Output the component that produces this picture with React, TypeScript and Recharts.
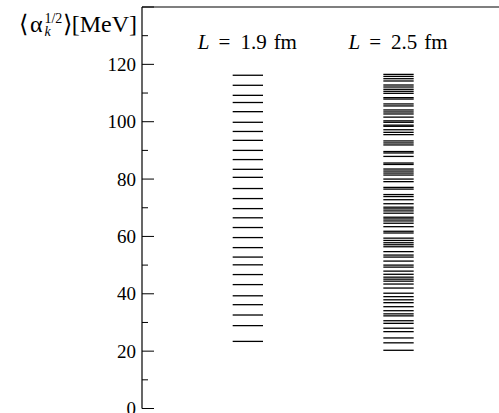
import React from 'react';
import { ComposedChart, XAxis, YAxis, ReferenceLine } from 'recharts';

// Energy levels (MeV)
const levelsL19: number[] = [
  116.2, 112.7, 109.2, 106.7, 103.5, 99.8, 96.6, 93.5, 90.0, 86.8, 83.4, 80.6,
  76.7, 73.2, 69.7, 66.5, 63.1, 59.6, 56.1, 52.8, 50.1, 46.7, 43.2, 39.3, 36.2,
  32.6, 28.9, 23.4,
];

const levelsL25: number[] = [
  116.5, 115.8, 115.0, 114.2, 112.8, 112.1, 111.3, 110.6, 109.9, 108.4, 107.9,
  106.2, 105.5, 104.1, 103.4, 102.7, 101.6, 100.3, 99.8, 98.8, 98.4, 97.2, 96.3,
  95.5, 93.3, 92.6, 91.9, 89.6, 89.1, 87.9, 85.6, 85.1, 83.5, 82.8, 82.1, 81.4,
  80.0, 79.1, 77.1, 76.5, 74.6, 73.9, 72.8, 71.4, 70.2, 69.6, 68.9, 68.1, 66.7,
  66.1, 65.4, 64.6, 63.4, 61.8, 61.2, 59.4, 58.6, 57.8, 57.1, 56.4, 54.7, 53.5,
  52.8, 51.4, 50.0, 49.3, 47.9, 46.8, 45.8, 45.1, 44.4, 43.4, 42.0, 40.2, 39.0,
  37.9, 36.9, 35.5, 34.1, 33.0, 32.3, 30.6, 29.7, 28.0, 26.8, 24.6, 22.9, 20.3,
];

const columnNames: string[] = ['1.9', '2.5'];
const yTicks: number[] = [0, 10, 20, 30, 40, 50, 60, 70, 80, 90, 100, 110, 120, 130, 140];
const yTickLabels: number[] = [0, 20, 40, 60, 80, 100, 120];

// layout (not data)
const W = 499;
const H = 413;
const M = { top: 7, right: 0, bottom: 4.5, left: 0 };
const AXIS_W = 142;
const X_DOMAIN: [number, number] = [0, 10];
const COL_CENTERS = [2.965, 7.185];
const HALF = 0.425;
const FONT = '"Liberation Serif", "Times New Roman", serif';

const YTick = (props: any) => {
  const { x, y, payload } = props;
  const v = payload.value;
  const major = v % 20 === 0;
  return (
    <g>
      <line x1={x} x2={x + (major ? 12 : 6)} y1={y} y2={y} stroke="#000" strokeWidth={1} />
      {major && yTickLabels.includes(v) && (
        <text x={x - 6} y={y} dy="0.34em" textAnchor="end" fontFamily={FONT} fontSize={19} fill="#000">
          {v}
        </text>
      )}
    </g>
  );
};

const columns = [levelsL19, levelsL25];

export default function App() {
  const plotW = W - M.left - M.right - AXIS_W;
  const xPx = (v: number) => M.left + AXIS_W + ((v - X_DOMAIN[0]) / (X_DOMAIN[1] - X_DOMAIN[0])) * plotW;
  return (
    <div style={{ position: 'absolute', left: 0, top: 0, width: W, height: H, overflow: 'hidden', background: '#fff' }}>
      <ComposedChart width={W} height={H} margin={M} data={[]}>
        <XAxis
          type="number"
          dataKey="x"
          domain={X_DOMAIN}
          allowDataOverflow
          tick={false}
          tickLine={false}
          height={0}
          axisLine={{ stroke: '#000', strokeWidth: 1.2 }}
        />
        <YAxis
          type="number"
          domain={[0, 140]}
          allowDataOverflow
          ticks={yTicks}
          interval={0}
          width={AXIS_W}
          tickSize={0}
          tickMargin={0}
          tickLine={false}
          tick={<YTick />}
          axisLine={{ stroke: '#000', strokeWidth: 1.2 }}
        />
        <ReferenceLine y={140} stroke="#000" strokeWidth={1.2} ifOverflow="visible" />
        {columns.map((levels, ci) =>
          levels.map((v, i) => (
            <ReferenceLine
              key={`${ci}-${i}`}
              segment={[
                { x: COL_CENTERS[ci] - HALF, y: v },
                { x: COL_CENTERS[ci] + HALF, y: v },
              ]}
              stroke="#000"
              strokeWidth={1.3}
              ifOverflow="visible"
            />
          ))
        )}
      </ComposedChart>
      <svg width={W} height={H} style={{ position: 'absolute', left: 0, top: 0, pointerEvents: 'none' }}>
        <g fontFamily={FONT} fill="#000">
          <text x={137} y={32} fontSize={24} textAnchor="end">
            <tspan>⟨</tspan>
            <tspan dx={2}>α</tspan>
            <tspan dx={2} dy={-9} fontSize={14}>1/2</tspan>
            <tspan dx={-17.9} dy={13} fontSize={14} fontStyle="italic">k</tspan>
            <tspan dx={12} dy={-4}>⟩[MeV]</tspan>
          </text>
          {columnNames.map((n, i) => (
            <text key={n} x={xPx(COL_CENTERS[i]) - 50} y={49} fontSize={21}>
              <tspan fontStyle="italic">L</tspan>
              <tspan dx={9}>=</tspan>
              <tspan dx={10}>{n}</tspan>
              <tspan dx={7}>fm</tspan>
            </text>
          ))}
        </g>
      </svg>
    </div>
  );
}
